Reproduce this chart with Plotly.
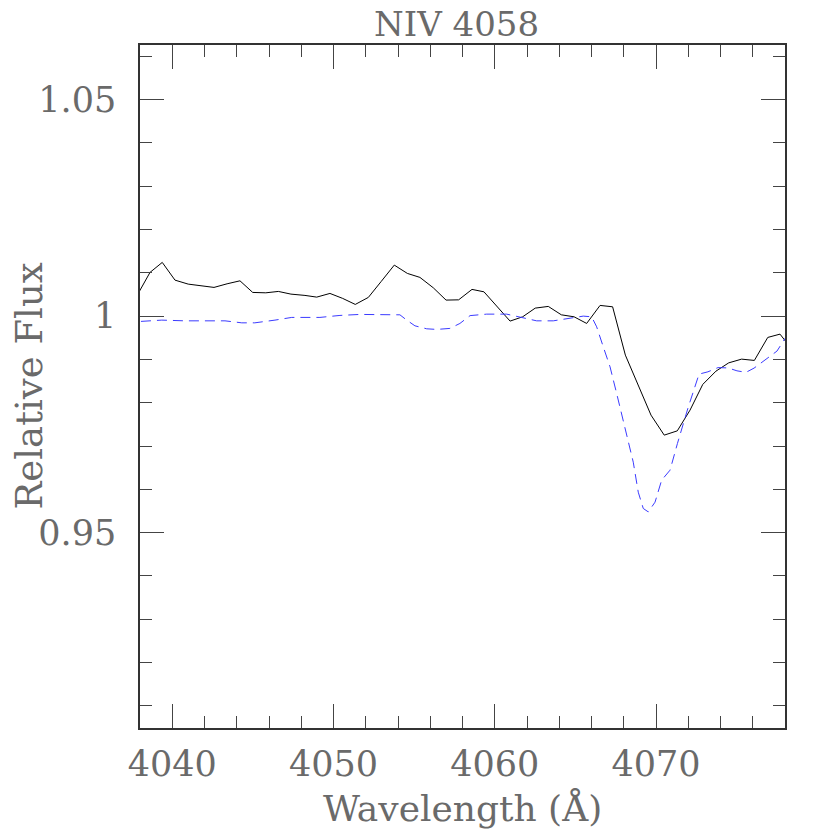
import plotly.graph_objects as go

# observed spectrum (black, solid)
obs_wave = [4037.83, 4038.62, 4039.38, 4040.17, 4040.99, 4041.83, 4042.59, 4043.40,
            4044.20, 4044.99, 4045.80, 4046.58, 4047.36, 4048.23, 4048.96, 4049.78,
            4050.57, 4051.35, 4052.16, 4052.96, 4053.77, 4054.58, 4055.36, 4056.19,
            4056.98, 4057.76, 4058.59, 4059.33, 4060.14, 4060.95, 4061.73, 4062.51,
            4063.32, 4064.13, 4064.92, 4065.70, 4066.53, 4067.31, 4068.10, 4068.90,
            4069.69, 4070.51, 4071.32, 4072.11, 4072.90, 4073.72, 4074.51, 4075.31,
            4076.10, 4076.93, 4077.69, 4078.49]
obs_flux = [1.00485, 1.01009, 1.01240, 1.00831, 1.00739, 1.00700, 1.00663, 1.00746,
            1.00815, 1.00547, 1.00538, 1.00570, 1.00508, 1.00478, 1.00439, 1.00524,
            1.00409, 1.00270, 1.00432, 1.00801, 1.01178, 1.00986, 1.00894, 1.00654,
            1.00370, 1.00376, 1.00617, 1.00561, 1.00215, 0.99885, 0.99984, 1.00185,
            1.00224, 1.00030, 0.99984, 0.99831, 1.00247, 1.00215, 0.99099, 0.98406,
            0.97714, 0.97252, 0.97351, 0.97829, 0.98423, 0.98730, 0.98921, 0.99007,
            0.98977, 0.99508, 0.99584, 0.99203]

# model spectrum (blue, dashed)
mod_wave = [4038.06, 4039.35, 4040.79, 4042.45, 4043.27, 4044.31, 4045.12, 4046.37,
            4047.41, 4049.16, 4050.40, 4051.64, 4052.88, 4054.12, 4054.54, 4055.05,
            4055.78, 4056.40, 4057.22, 4057.84, 4058.47, 4059.50, 4060.74, 4061.57,
            4062.60, 4063.63, 4064.67, 4065.49, 4066.01, 4066.32, 4066.73, 4067.15,
            4067.56, 4067.97, 4068.28, 4068.59, 4068.90, 4069.21, 4069.52, 4069.94,
            4070.35, 4070.87, 4071.33, 4071.98, 4072.67, 4073.22, 4073.84, 4074.47,
            4075.02, 4075.58, 4076.08, 4076.88, 4077.50, 4078.06]
mod_flux = [0.99878, 0.99908, 0.99891, 0.99885, 0.99891, 0.99845, 0.99845, 0.99908,
            0.99970, 0.99970, 1.00016, 1.00039, 1.00039, 1.00030, 0.99908, 0.99776,
            0.99707, 0.99693, 0.99716, 0.99831, 1.00012, 1.00046, 1.00046, 0.99970,
            0.99891, 0.99891, 0.99961, 1.00000, 0.99984, 0.99753, 0.99291, 0.98829,
            0.98215, 0.97598, 0.97136, 0.96628, 0.95935, 0.95559, 0.95480, 0.95704,
            0.96212, 0.96443, 0.97060, 0.97875, 0.98661, 0.98714, 0.98811, 0.98804,
            0.98737, 0.98702, 0.98799, 0.99030, 0.99192, 0.99515]

xtick_vals = [4040, 4050, 4060, 4070]
xtick_text = ['4040', '4050', '4060', '4070']
ytick_vals = [0.95, 1.0, 1.05]
ytick_text = ['0.95', '1', '1.05']

FONT = 'DejaVu Serif'
TXT = '#6a6a6a'

fig = go.Figure()
fig.add_trace(go.Scatter(x=obs_wave, y=obs_flux, mode='lines',
                         line=dict(color='black', width=1)))
fig.add_trace(go.Scatter(x=mod_wave, y=mod_flux, mode='lines',
                         line=dict(color='#3b3bff', width=1, dash='10px,6px')))

axis_common = dict(showgrid=False, zeroline=False, showline=True, linecolor='#333333',
                   linewidth=1.5, mirror='ticks', ticks='inside', ticklen=24,
                   tickcolor='#444444', tickwidth=1, automargin=False,
                   tickfont=dict(family=FONT, size=35, color=TXT))

fig.update_xaxes(range=[4038, 4078], tickmode='array', tickvals=xtick_vals,
                 ticktext=xtick_text, ticklabelstandoff=4,
                 minor=dict(dtick=2, tick0=4040, ticklen=12, ticks='inside',
                            tickcolor='#444444'),
                 **axis_common)
fig.update_yaxes(range=[0.9049, 1.0626], tickmode='array', tickvals=ytick_vals,
                 ticktext=ytick_text, ticklabelstandoff=15,
                 minor=dict(dtick=0.01, tick0=0.9, ticklen=12, ticks='inside',
                            tickcolor='#444444'),
                 **axis_common)

# page body has an 8px margin, so margins are shifted to land the frame where the reference has it
fig.update_layout(
    width=830, height=830,
    margin=dict(l=132, r=53, t=37, b=110),
    plot_bgcolor='white', paper_bgcolor='white',
    showlegend=False,
    annotations=[
        dict(text='NIV 4058', xref='paper', yref='paper', x=0.49, y=1, yshift=21,
             showarrow=False, font=dict(family=FONT, size=34, color=TXT),
             xanchor='center', yanchor='middle'),
        dict(text='Wavelength (Å)', xref='paper', yref='paper', x=0.5, y=0, yshift=-80,
             showarrow=False, font=dict(family=FONT, size=36, color=TXT),
             xanchor='center', yanchor='middle'),
        dict(text='Relative Flux', xref='paper', yref='paper', x=0, y=0.5, xshift=-111,
             textangle=-90, showarrow=False, font=dict(family=FONT, size=37, color=TXT),
             xanchor='center', yanchor='middle'),
    ],
)

fig.write_html("out.html")
